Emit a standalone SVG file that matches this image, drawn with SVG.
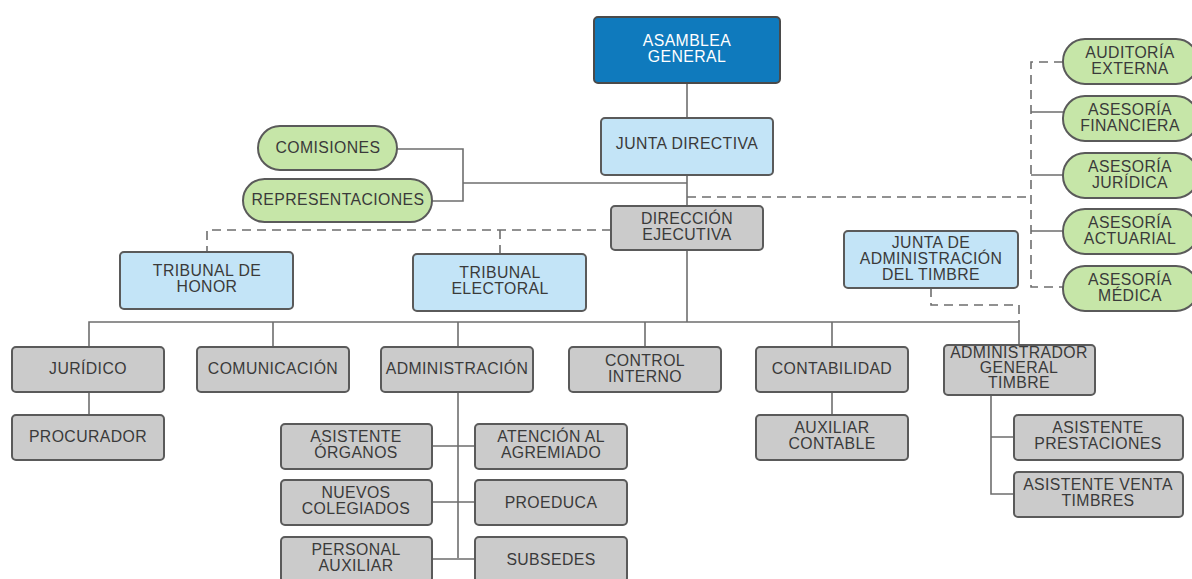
<svg xmlns="http://www.w3.org/2000/svg" width="1192" height="579" viewBox="0 0 1192 579">
<style>
text{font-family:"Liberation Sans",Arial,sans-serif;font-size:15.8px;fill:#3a3a3a;text-anchor:middle;letter-spacing:0.4px}
.g rect{fill:#cbcbcb;stroke:#5a5a5a;stroke-width:2}
.lb rect{fill:#c3e4f7;stroke:#5a5a5a;stroke-width:2}
.db rect{fill:#0f7abd;stroke:#4a4a4a;stroke-width:2}
.db text{fill:#ffffff}
.p rect{fill:#c6e6a8;stroke:#5a5a5a;stroke-width:2}
.c path{fill:none;stroke:#6e6e6e;stroke-width:1.6}
.c .d{stroke-dasharray:9 6}
</style>
<g class="c" id="connectors">
<path d="M687 83V118"/>
<path d="M687 175V206"/>
<path d="M397 149H463V201H432"/>
<path d="M463 183H687"/>
<path class="d" d="M687 197H1031"/>
<path class="d" d="M1063 62H1031V287H1063"/>
<path d="M1031 112H1063M1031 175H1063M1031 231H1063"/>
<path class="d" d="M611 230H207V252"/>
<path class="d" d="M500 230V254"/>
<path class="d" d="M931 288V305H1019V322"/>
<path d="M687 250V322"/>
<path d="M89 347V322H1019V345"/>
<path d="M273 322V347M458 322V347M645 322V347M832 322V347"/>
<path d="M89 392V415"/>
<path d="M832 392V415"/>
<path d="M991 395V494H1014M991 437H1014"/>
<path d="M458 392V558"/>
<path d="M432 446H475M432 502H475M432 559H475"/>
</g>
<g class="db" id="asamblea"><rect x="594" y="17" width="186" height="66" rx="4"/><text x="687" y="46">ASAMBLEA</text><text x="687" y="62">GENERAL</text></g>
<g class="lb" id="junta"><rect x="601" y="118" width="172" height="57" rx="4"/><text x="687" y="149">JUNTA DIRECTIVA</text></g>
<g class="p" id="comisiones"><rect x="258" y="126" width="139" height="44" rx="22"/><text x="328" y="153">COMISIONES</text></g>
<g class="p" id="representaciones"><rect x="243" y="179" width="189" height="43" rx="21.5"/><text x="338" y="205">REPRESENTACIONES</text></g>
<g class="g" id="direccion"><rect x="611" y="206" width="152" height="44" rx="4"/><text x="687" y="224">DIRECCIÓN</text><text x="687" y="240">EJECUTIVA</text></g>
<g class="lb" id="tribunal-honor"><rect x="120" y="252" width="173" height="57" rx="4"/><text x="207" y="276">TRIBUNAL DE</text><text x="207" y="292">HONOR</text></g>
<g class="lb" id="tribunal-electoral"><rect x="413" y="254" width="173" height="57" rx="4"/><text x="500" y="278">TRIBUNAL</text><text x="500" y="294">ELECTORAL</text></g>
<g class="lb" id="junta-timbre"><rect x="844" y="231" width="174" height="57" rx="4"/><text x="931" y="248">JUNTA DE</text><text x="931" y="264">ADMINISTRACIÓN</text><text x="931" y="280">DEL TIMBRE</text></g>
<g class="p" id="auditoria"><rect x="1063" y="39" width="135" height="45" rx="22"/><text x="1130" y="58">AUDITORÍA</text><text x="1130" y="74">EXTERNA</text></g>
<g class="p" id="financiera"><rect x="1063" y="96" width="135" height="45" rx="22"/><text x="1130" y="115">ASESORÍA</text><text x="1130" y="131">FINANCIERA</text></g>
<g class="p" id="juridica-ase"><rect x="1063" y="153" width="135" height="45" rx="22"/><text x="1130" y="172">ASESORÍA</text><text x="1130" y="188">JURÍDICA</text></g>
<g class="p" id="actuarial"><rect x="1063" y="209" width="135" height="45" rx="22"/><text x="1130" y="228">ASESORÍA</text><text x="1130" y="244">ACTUARIAL</text></g>
<g class="p" id="medica"><rect x="1063" y="266" width="135" height="45" rx="22"/><text x="1130" y="285">ASESORÍA</text><text x="1130" y="301">MÉDICA</text></g>
<g class="g" id="juridico"><rect x="12" y="347" width="152" height="45" rx="4"/><text x="88" y="374">JURÍDICO</text></g>
<g class="g" id="comunicacion"><rect x="197" y="347" width="152" height="45" rx="4"/><text x="273" y="374">COMUNICACIÓN</text></g>
<g class="g" id="administracion"><rect x="381" y="347" width="152" height="45" rx="4"/><text x="457" y="374">ADMINISTRACIÓN</text></g>
<g class="g" id="control"><rect x="569" y="347" width="152" height="45" rx="4"/><text x="645" y="366">CONTROL</text><text x="645" y="382">INTERNO</text></g>
<g class="g" id="contabilidad"><rect x="756" y="347" width="152" height="45" rx="4"/><text x="832" y="374">CONTABILIDAD</text></g>
<g class="g" id="admin-timbre"><rect x="944" y="345" width="151" height="50" rx="4"/><text x="1019" y="358">ADMINISTRADOR</text><text x="1019" y="373">GENERAL</text><text x="1019" y="388">TIMBRE</text></g>
<g class="g" id="procurador"><rect x="12" y="415" width="152" height="45" rx="4"/><text x="88" y="442">PROCURADOR</text></g>
<g class="g" id="auxiliar-contable"><rect x="756" y="415" width="152" height="45" rx="4"/><text x="832" y="433">AUXILIAR</text><text x="832" y="449">CONTABLE</text></g>
<g class="g" id="asist-prest"><rect x="1014" y="415" width="169" height="45" rx="4"/><text x="1098" y="433">ASISTENTE</text><text x="1098" y="449">PRESTACIONES</text></g>
<g class="g" id="asist-venta"><rect x="1014" y="472" width="169" height="45" rx="4"/><text x="1098" y="490">ASISTENTE VENTA</text><text x="1098" y="506">TIMBRES</text></g>
<g class="g" id="asist-organos"><rect x="281" y="424" width="151" height="45" rx="4"/><text x="356" y="442">ASISTENTE</text><text x="356" y="458">ÓRGANOS</text></g>
<g class="g" id="nuevos"><rect x="281" y="480" width="151" height="45" rx="4"/><text x="356" y="498">NUEVOS</text><text x="356" y="514">COLEGIADOS</text></g>
<g class="g" id="personal"><rect x="281" y="537" width="151" height="45" rx="4"/><text x="356" y="555">PERSONAL</text><text x="356" y="571">AUXILIAR</text></g>
<g class="g" id="atencion"><rect x="475" y="424" width="152" height="45" rx="4"/><text x="551" y="442">ATENCIÓN AL</text><text x="551" y="458">AGREMIADO</text></g>
<g class="g" id="proeduca"><rect x="475" y="480" width="152" height="45" rx="4"/><text x="551" y="508">PROEDUCA</text></g>
<g class="g" id="subsedes"><rect x="475" y="537" width="152" height="45" rx="4"/><text x="551" y="565">SUBSEDES</text></g>
</svg>
